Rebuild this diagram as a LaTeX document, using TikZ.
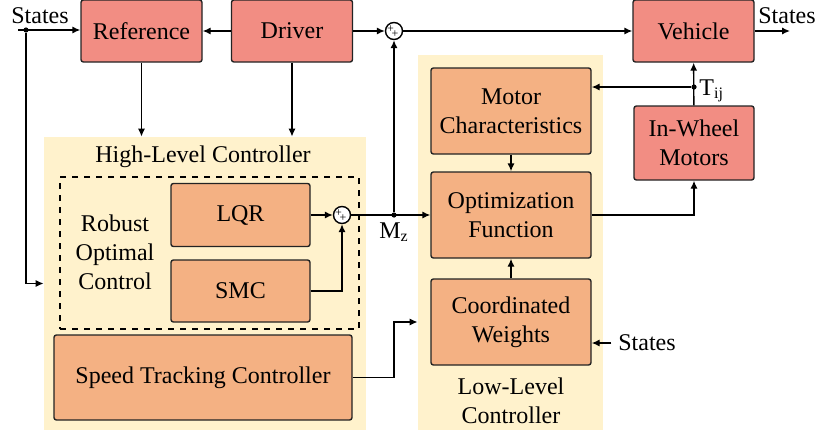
\documentclass[tikz,border=0pt]{standalone}
\usepackage{fontspec}
\setmainfont{LiberationSerif}[Extension=.ttf, UprightFont=*-Regular, BoldFont=*-Bold, ItalicFont=*-Italic, BoldItalicFont=*-BoldItalic]
\usetikzlibrary{positioning, arrows.meta}
\definecolor{salmonred}{RGB}{242,141,131}
\definecolor{lightapricot}{RGB}{244,177,131}
\definecolor{paleyellow}{RGB}{255,242,204}
\definecolor{darkframe}{RGB}{35,35,35}

\begin{document}
\begin{tikzpicture}[x=0.5pt, y=-0.5pt, font=\fontsize{12}{14.5}\selectfont,
  redbox/.style={draw=darkframe, line width=0.7pt, rounded corners=1.2pt, fill=salmonred, align=center, inner sep=0pt},
  orangebox/.style={draw=darkframe, line width=0.7pt, rounded corners=1.2pt, fill=lightapricot, align=center, inner sep=0pt},
  region/.style={fill=paleyellow, inner sep=0pt},
  sumnode/.style={circle, draw=black, line width=0.7pt, fill=white, minimum size=8.5pt, inner sep=0pt},
  plus/.style={font=\fontsize{6}{6}\selectfont, inner sep=0pt},
  arr/.style={-{Latex[length=4pt, width=3.6pt]}, line width=0.7pt},
  dot/.style={circle, fill=black, inner sep=0pt, minimum size=2.6pt}]

\useasboundingbox (0,0) rectangle (819,434);

\node[region, minimum width=161pt, minimum height=146.5pt] (hl) at (205,283.5) {};
\node[region, minimum width=92.5pt, minimum height=187.5pt] (ll) at (510.5,242.5) {};
\node[draw, dashed, line width=0.6pt, minimum width=149.5pt, minimum height=76pt] (rob) at (209.5,253) {};

\node (hltitle) at (203,157) {High-Level Controller};
\node[align=center] (robtxt) at (115,252) {Robust\\Optimal\\Control};
\node[align=center] (lltitle) at (511,401) {Low-Level\\Controller};

\node[redbox, minimum width=60.5pt, minimum height=31pt] (ref) at (141.5,31) {Reference};
\node[redbox, minimum width=60.5pt, minimum height=31pt] (drv) at (292,31) {Driver};
\node[redbox, minimum width=60.5pt, minimum height=31pt] (veh) at (693.5,31) {Vehicle};
\node[redbox, minimum width=60pt, minimum height=37pt] (iwm) at (694,143) {In-Wheel\\Motors};

\node[orangebox, minimum width=80pt, minimum height=43pt] (mot) at (511,111) {Motor\\Characteristics};
\node[orangebox, minimum width=80pt, minimum height=43pt] (opt) at (511,215) {Optimization\\Function};
\node[orangebox, minimum width=80pt, minimum height=43pt] (cw) at (511,322) {Coordinated\\Weights};
\node[orangebox, minimum width=69.5pt, minimum height=31.5pt] (lqr) at (240.5,215) {LQR};
\node[orangebox, minimum width=69.5pt, minimum height=31pt] (smc) at (240.5,291) {SMC};
\node[orangebox, minimum width=149pt, minimum height=42.5pt] (spd) at (203,377.5) {Speed Tracking Controller};

\node[sumnode] (s1) at (394,31) {};
\node[plus] at ([xshift=-1.7pt, yshift=0.7pt]s1.center) {+};
\node[plus] at ([xshift=0.5pt, yshift=-1.7pt]s1.center) {+};
\node[sumnode] (s2) at (342,215) {};
\node[plus] at ([xshift=-1.7pt, yshift=0.7pt]s2.center) {+};
\node[plus] at ([xshift=0.5pt, yshift=-1.7pt]s2.center) {+};

\node (stin) at (40,16) {States};
\node (stout) at (787,16) {States};
\node (stcw) at (647,343) {States};

\coordinate (in1) at (18,30);
\coordinate (out1) at (790,31);
\node[dot] (d1) at (26,30) {};
\node[dot] (d2) at (s1 |- s2) {};
\node[dot] (d3) at (694,87) {};
\node[anchor=north, inner sep=1pt] (mz) at ([yshift=-1pt]d2.south) {M\textsubscript{z}};
\node[anchor=west, inner sep=1pt] (tij) at ([yshift=-2pt]d3.east) {T\textsubscript{ij}};

\draw[arr] (in1) -- (ref.west |- in1);
\draw[arr] (d1) |- (hl.west);
\draw[arr] (drv.west) -- (ref.east);
\draw[arr] (drv.east) -- (s1.west);
\draw[arr] (s1.east) -- (veh.west);
\draw[arr] (veh.east) -- (out1);
\draw[arr] (ref.south) -- (ref |- hl.north);
\draw[arr] (drv.south) -- (drv |- hl.north);
\draw[arr] (lqr.east) -- (s2.west);
\draw[arr] (smc.east) -| (s2.south);
\draw[arr] (s2.east) -- (opt.west |- s2);
\draw[arr] (d2) -- (s1.south);
\draw[arr] (spd.east) -| (s1 |- cw) -- (ll.west |- cw);
\draw[arr] (mot) -- (opt);
\draw[arr] (cw) -- (opt);
\draw[arr] (stcw.west) -- (cw.east |- stcw);
\draw[arr] (opt.east) -| (iwm.south);
\draw[arr] (iwm) -- (veh);
\draw[arr] (d3) -- (mot.east |- d3);

\end{tikzpicture}
\end{document}
